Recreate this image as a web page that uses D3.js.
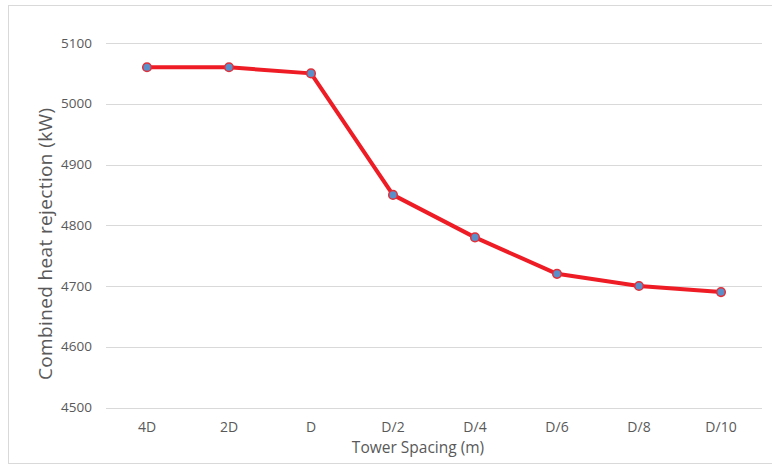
<!DOCTYPE html>
<html>
<head>
<meta charset="utf-8">
<script src="https://cdn.jsdelivr.net/npm/d3@7"></script>
<style>
  body { margin: 0; background: #fff; }
  text { font-family: "Open Sans", "Noto Sans", sans-serif; }
</style>
</head>
<body>
<svg id="chart" width="772" height="466"></svg>
<script>
const spacings = ["4D", "2D", "D", "D/2", "D/4", "D/6", "D/8", "D/10"];
const heatRejection = [5060, 5060, 5050, 4850, 4780, 4720, 4700, 4690];
const yTicks = [4500, 4600, 4700, 4800, 4900, 5000, 5100];

const svg = d3.select("#chart");
const margin = { top: 43, right: 10, bottom: 59, left: 106 };
const width = 772 - margin.left - margin.right;
const height = 466 - margin.top - margin.bottom;

// outer chart border
svg.append("rect")
    .attr("x", 8.5).attr("y", 5.5)
    .attr("width", 780).attr("height", 458)
    .attr("fill", "#fff")
    .attr("stroke", "#d9d9d9");

const chart = svg.append("g").attr("transform", `translate(${margin.left},${margin.top})`);

const x = d3.scaleBand().domain(spacings).range([0, 656]);
const y = d3.scaleLinear().domain([4500, 5100]).range([height + 0.5, 0]);

// gridlines
chart.append("g")
    .selectAll("line")
    .data(yTicks)
    .join("line")
    .attr("x1", 0).attr("x2", 656)
    .attr("y1", d => Math.round(y(d)) + 0.5)
    .attr("y2", d => Math.round(y(d)) + 0.5)
    .attr("stroke", "#d9d9d9")
    .attr("stroke-width", 1);

// y tick labels
chart.append("g")
    .selectAll("text")
    .data(yTicks)
    .join("text")
    .attr("x", -14)
    .attr("y", d => y(d))
    .attr("dy", "0.35em")
    .attr("text-anchor", "end")
    .attr("font-size", 13.5)
    .attr("fill", "#595959")
    .text(d => d);

// x tick labels
chart.append("g")
    .selectAll("text")
    .data(spacings)
    .join("text")
    .attr("x", d => x(d) + x.bandwidth() / 2)
    .attr("y", height + 25)
    .attr("text-anchor", "middle")
    .attr("font-size", 14)
    .attr("fill", "#595959")
    .text(d => d);

// axis titles
svg.append("text")
    .attr("x", 418).attr("y", 453)
    .attr("text-anchor", "middle")
    .attr("font-size", 15.5)
    .attr("fill", "#595959")
    .text("Tower Spacing (m)");

svg.append("text")
    .attr("transform", "translate(52,244) rotate(-90)")
    .attr("text-anchor", "middle")
    .attr("font-size", 19)
    .attr("textLength", 272)
    .attr("lengthAdjust", "spacing")
    .attr("fill", "#595959")
    .text("Combined heat rejection (kW)");

const pts = spacings.map((s, i) => ({ s, v: heatRejection[i] }));

const line = d3.line()
    .x(d => x(d.s) + x.bandwidth() / 2)
    .y(d => y(d.v));

chart.append("path")
    .datum(pts)
    .attr("d", line)
    .attr("fill", "none")
    .attr("stroke", "#ee1c25")
    .attr("stroke-width", 4)
    .attr("stroke-linejoin", "round");

chart.append("g")
    .selectAll("circle")
    .data(pts)
    .join("circle")
    .attr("cx", d => x(d.s) + x.bandwidth() / 2)
    .attr("cy", d => y(d.v))
    .attr("r", 4.3)
    .attr("fill", "#5b8fc9")
    .attr("stroke", "#e0303a")
    .attr("stroke-width", 1.5);
</script>
</body>
</html>
